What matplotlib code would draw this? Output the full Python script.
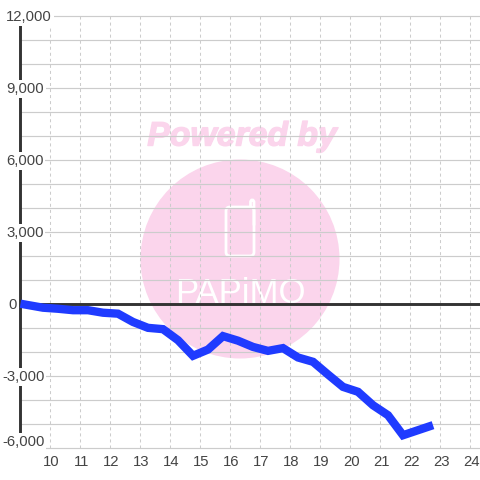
import matplotlib
matplotlib.use("Agg")
import matplotlib.pyplot as plt
import matplotlib.patheffects as pe
from matplotlib.patches import Circle, FancyBboxPatch

plt.rcParams['font.family'] = ['Liberation Sans', 'DejaVu Sans']

# values
x_vals = [9, 9.75, 10.25, 10.75, 11.25, 11.75, 12.25, 12.75, 13.25, 13.75, 14.25,
          14.75, 15.25, 15.75, 16.25, 16.75, 17.25, 17.75, 18.25, 18.75, 19.25,
          19.75, 20.25, 20.75, 21.25, 21.75, 22.25, 22.75]
y_vals = [20, -146, -190, -250, -250, -355, -395, -740, -985, -1040, -1500,
          -2150, -1890, -1330, -1520, -1780, -1945, -1830, -2220, -2400, -2930,
          -3445, -3650, -4210, -4625, -5460, -5250, -5040]
x_ticks = list(range(10, 25))
y_grid = list(range(-6000, 13000, 1000))
y_labels = {12000: '12,000', 9000: '9,000', 6000: '6,000', 3000: '3,000',
            0: '0', -3000: '-3,000', -6000: '-6,000'}

PINK = '#fbd5ec'
GRID = '#cccccc'
DARK = '#333333'
BLUE = '#1f3bff'

fig = plt.figure(figsize=(4.8, 4.8), dpi=100, facecolor='white')

# watermark sits behind the chart, in pixel coordinates
bg = fig.add_axes([0, 0, 1, 1], zorder=0)
bg.set_xlim(0, 480)
bg.set_ylim(480, 0)
bg.axis('off')
bg.add_patch(Circle((240, 259), 99.5, fc=PINK, ec='none'))
bg.text(242, 137, 'Powered by', color=PINK, fontsize=24.3, fontweight='bold',
        fontstyle='italic', ha='center', va='center',
        path_effects=[pe.withStroke(linewidth=1, foreground=PINK)])
bg.add_patch(FancyBboxPatch((226, 207), 28, 49, boxstyle='round,pad=0,rounding_size=4',
                            fc='none', ec='white', lw=2))
bg.plot([254, 254, 253, 251.5, 250.5, 250.5], [225, 201.5, 200, 200, 201.5, 207],
        color='white', lw=2, solid_capstyle='round', solid_joinstyle='round')
bg.text(240.5, 303, 'PAPiMO', color='white', fontsize=25, ha='center', va='baseline')

# main chart, axes fill the whole figure: 30 px per x unit, 24 px per 1000
ax = fig.add_axes([0, 0, 1, 1], zorder=1)
ax.patch.set_alpha(0)
ax.set_xlim(8.3167, 24.3167)
ax.set_ylim(-7325, 12675)
ax.axis('off')

ax.hlines([v for v in y_grid if v != 0], 9, 24.3167, color=GRID, lw=0.85, zorder=1)
ax.vlines(x_ticks, -6000, 12000, color=GRID, lw=0.75, linestyles=(0, (2.9, 2.9)), zorder=1)
ax.plot([9, 9], [-6000, 12000], color=DARK, lw=2.1, solid_capstyle='butt', zorder=2)
ax.plot([9, 24.3167], [0, 0], color=DARK, lw=2.1, solid_capstyle='butt', zorder=2)
ax.plot(x_vals, y_vals, color=BLUE, lw=6, solid_joinstyle='miter',
        solid_capstyle='butt', zorder=3)

# labels carry a white box that cuts the axis and the gridlines
left_px = {12000: 6, 9000: 6, 6000: 6, 3000: 6, 0: 8, -3000: 2, -6000: 2}
nudge_px = {-6000: -6.5}
for v, s in y_labels.items():
    ax.text(left_px[v] / 480, v + (-nudge_px.get(v, 0)) * 1000 / 24 - 24, s,
            transform=ax.get_yaxis_transform(), ha='left', va='center',
            fontsize=10.7, color='#444444', zorder=4,
            bbox=dict(fc='white', ec='none', pad=1.4))
for t in x_ticks:
    ax.text(t + 0.03, -6570, str(t), ha='center', va='center', fontsize=10.7,
            color='#444444', zorder=4)

fig.savefig('out.png', dpi=100)
